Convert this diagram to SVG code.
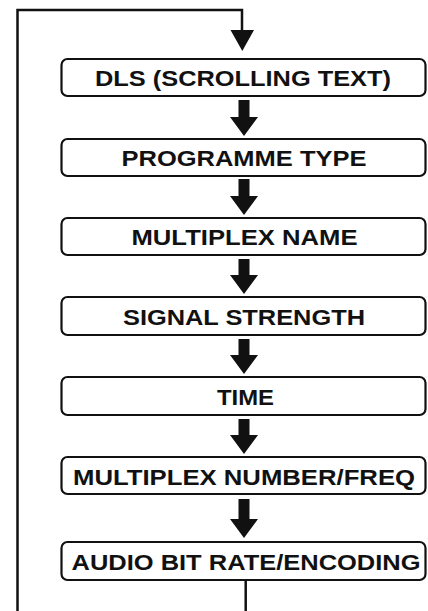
<svg xmlns="http://www.w3.org/2000/svg" width="428" height="611" viewBox="0 0 428 611">
<style>
.box{fill:#fff;stroke:#111;stroke-width:2.2}
.lbl{font-family:"Liberation Sans",Arial,sans-serif;font-weight:bold;font-size:22px;fill:#111;text-anchor:middle}
.ln{fill:none;stroke:#111;stroke-width:2.5}
.ah{fill:#111}
</style>
<rect width="428" height="611" fill="#fff"/>
<g id="connectors">
<polyline class="ln" points="17.5,611 17.5,10 242,10 242,32"/>
<polygon class="ah" points="230.5,30 254,30 242.3,51"/>
<line class="ln" x1="245.7" y1="581" x2="245.7" y2="611"/>
<path class="ah" d="M238.5,100 h11 v17 h8.5 l-14,19 l-14,-19 h8.5 z"/>
<path class="ah" d="M238.5,179 h11 v17 h8.5 l-14,19 l-14,-19 h8.5 z"/>
<path class="ah" d="M238.5,259 h11 v16 h8.5 l-14,19 l-14,-19 h8.5 z"/>
<path class="ah" d="M238.5,339 h11 v16 h8.5 l-14,19 l-14,-19 h8.5 z"/>
<path class="ah" d="M238.5,419 h11 v16 h8.5 l-14,19 l-14,-19 h8.5 z"/>
<path class="ah" d="M238.5,499 h11 v20 h8.5 l-14,19 l-14,-19 h8.5 z"/>
</g>
<g id="n1"><rect class="box" x="61.5" y="59" width="364" height="37" rx="6"/><text class="lbl" x="243" y="85.5" textLength="296" lengthAdjust="spacingAndGlyphs">DLS (SCROLLING TEXT)</text></g>
<g id="n2"><rect class="box" x="61.5" y="139" width="364" height="37" rx="6"/><text class="lbl" x="244" y="166" textLength="245" lengthAdjust="spacingAndGlyphs">PROGRAMME TYPE</text></g>
<g id="n3"><rect class="box" x="61.5" y="218" width="364" height="37" rx="6"/><text class="lbl" x="244.5" y="245" textLength="226" lengthAdjust="spacingAndGlyphs">MULTIPLEX NAME</text></g>
<g id="n4"><rect class="box" x="61.5" y="297" width="364" height="38" rx="6"/><text class="lbl" x="244" y="325" textLength="242" lengthAdjust="spacingAndGlyphs">SIGNAL STRENGTH</text></g>
<g id="n5"><rect class="box" x="61.5" y="377" width="364" height="38" rx="6"/><text class="lbl" x="245.5" y="404.5" textLength="57" lengthAdjust="spacingAndGlyphs">TIME</text></g>
<g id="n6"><rect class="box" x="61.5" y="457" width="364" height="37" rx="6"/><text class="lbl" x="244" y="484.5" textLength="342" lengthAdjust="spacingAndGlyphs">MULTIPLEX NUMBER/FREQ</text></g>
<g id="n7"><rect class="box" x="61.5" y="542" width="364" height="38" rx="6"/><text class="lbl" x="246" y="570" textLength="349" lengthAdjust="spacingAndGlyphs">AUDIO BIT RATE/ENCODING</text></g>
</svg>
